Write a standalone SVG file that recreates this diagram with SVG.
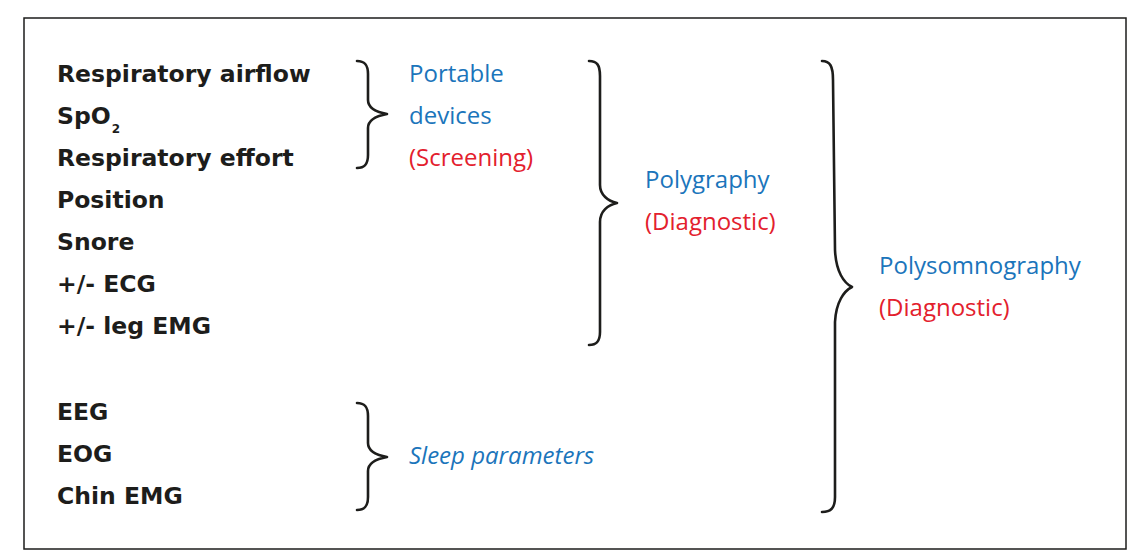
<svg xmlns="http://www.w3.org/2000/svg" width="1128" height="550" viewBox="0 0 1128 550">
<style>
.lbl{font-family:"DejaVu Sans","Liberation Sans",sans-serif;font-weight:bold;font-size:23.5px;fill:#1d1d1b}
.blue{font-family:"Open Sans","Liberation Sans",sans-serif;font-size:24px;fill:#1b75bb}
.red{font-family:"Open Sans","Liberation Sans",sans-serif;font-size:24px;fill:#e3202d}
.br{fill:none;stroke:#1d1d1b;stroke-width:2.6;stroke-linecap:round;stroke-linejoin:round}
</style>
<rect x="24" y="18" width="1102" height="531" fill="#fff" stroke="#1d1d1b" stroke-width="1.5"/>
<g id="params">
<text class="lbl" x="57" y="82">Respiratory airflow</text>
<text class="lbl" x="57" y="124">SpO<tspan font-size="12" dx="1" dy="9">2</tspan></text>
<text class="lbl" x="57" y="166">Respiratory effort</text>
<text class="lbl" x="57" y="208">Position</text>
<text class="lbl" x="57" y="250">Snore</text>
<text class="lbl" x="57" y="292">+/- ECG</text>
<text class="lbl" x="57" y="334">+/- leg EMG</text>
<text class="lbl" x="57" y="420">EEG</text>
<text class="lbl" x="57" y="462">EOG</text>
<text class="lbl" x="57" y="504">Chin EMG</text>
</g>
<g id="connectors">
<path class="br" d="M357,61 C365,61 368,65 368,74 L368,100 C368,108 376,112 387,114 C376,116 368,120 368,128 L368,155 C368,164 365,168 357,168"/>
<path class="br" d="M589,61 C597,61 600,65 600,76 L600,185 C600,195 608,201 617,203 C608,205 600,211 600,222 L600,332 C600,341 597,345 589,345"/>
<path class="br" d="M822,61 C830,61 833,66 833,80 L835,250 C836,272 844,283 852,287 C844,291 836,302 835,322 L835,497 C835,508 831,512 822,512"/>
<path class="br" d="M357,403 C365,403 368,407 368,416 L368,443 C368,451 376,455 387,457 C376,459 368,463 368,471 L368,497 C368,506 365,510 357,510"/>
</g>
<g id="portable">
<text class="blue" x="409" y="82">Portable</text>
<text class="blue" x="409" y="124">devices</text>
<text class="red" x="409" y="166">(Screening)</text>
</g>
<g id="polygraphy">
<text class="blue" x="645" y="188">Polygraphy</text>
<text class="red" x="645" y="230">(Diagnostic)</text>
</g>
<g id="polysomnography">
<text class="blue" x="879" y="274">Polysomnography</text>
<text class="red" x="879" y="316">(Diagnostic)</text>
</g>
<g id="sleep">
<text class="blue" x="409" y="464" font-style="italic" font-size="22">Sleep parameters</text>
</g>
</svg>
